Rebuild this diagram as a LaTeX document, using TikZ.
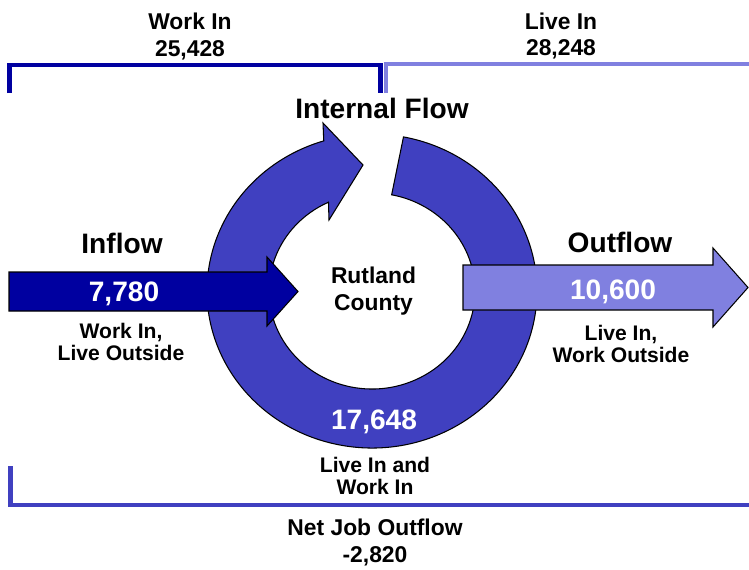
\documentclass[tikz,border=0pt]{standalone}
\usepackage{fontspec}
\setmainfont{Liberation Sans}
\usetikzlibrary{calc}

\definecolor{ringblue}{RGB}{64,64,192}
\definecolor{darkblue}{RGB}{0,0,160}
\definecolor{lightblue}{RGB}{128,128,224}

\begin{document}
\begin{tikzpicture}[
    x=0.02cm, y=0.02cm,
    ring/.style={fill=ringblue, draw=black, line width=0.6pt},
    inarrow/.style={fill=darkblue, draw=black, line width=0.6pt},
    outarrow/.style={fill=lightblue, draw=black, line width=0.6pt},
    bracket/.style={line width=2.3pt, line cap=butt, line join=miter},
    head/.style={font=\fontsize{16}{19}\selectfont\bfseries, inner sep=0pt, anchor=north},
    num/.style={head, text=white},
    total/.style={font=\fontsize{13}{15}\selectfont\bfseries, align=center, inner sep=0pt, anchor=north},
    lbl/.style={font=\fontsize{12}{12.5}\selectfont\bfseries, align=center, inner sep=0pt, anchor=north},
]
\useasboundingbox (0,0) rectangle (749,-569);

% BRACKETS
\draw[bracket, darkblue] (9.5,-93) -- (9.5,-65) -- (380.5,-65) -- (380.5,-93);
\draw[bracket, lightblue] (386,-93) -- (386,-64) -- (749,-64);
\draw[bracket, ringblue, line width=2.7pt] (10.5,-466) -- (10.5,-505) -- (749,-505);

\node[total] (workin) at (190,-13) {Work In\\25,428};
\node[total] (livein) at (561,-12.5) {Live In\\28,248};
\node[total] (net) at (375,-519) {Net Job Outflow\\-2,820};

% INTERNAL FLOW RING
\coordinate (C) at (372,-291);
\draw[ring] ([shift={(79:103 and 98)}]C) -- ([shift={(79:165 and 157)}]C)
    arc[start angle=79, end angle=-253, x radius=165, y radius=157]
    -- (323,-123) -- (363,-165) -- (329,-220)
    -- ([shift={(-245:103 and 98)}]C)
    arc[start angle=-245, end angle=79, x radius=103, y radius=98] -- cycle;

\node[head] (internal) at (382,-98) {Internal Flow};
\node[total] (county) at (373.5,-267) {Rutland\\County};
\node[num] (both) at (374,-410) {17,648};
\node[lbl] (bothlbl) at (375,-457) {Live In and\\Work In};

% INFLOW
\draw[inarrow] (9,-272) -- (267,-272) -- (267,-257) -- (298,-291.5)
    -- (267,-326) -- (267,-311) -- (9,-311) -- cycle;
\node[head] (inflow) at (122,-233) {Inflow};
\node[num] (inval) at (124,-282) {7,780};
\node[lbl] (inlbl) at (121,-323) {Work In,\\Live Outside};

% OUTFLOW
\draw[outarrow] (463,-265) -- (713,-265) -- (713,-248) -- (748,-287.5)
    -- (713,-327) -- (713,-310) -- (463,-310) -- cycle;
\node[head] (outflow) at (620,-232) {Outflow};
\node[num] (outval) at (613,-280) {10,600};
\node[lbl] (outlbl) at (621,-325) {Live In,\\Work Outside};

\end{tikzpicture}
\end{document}
